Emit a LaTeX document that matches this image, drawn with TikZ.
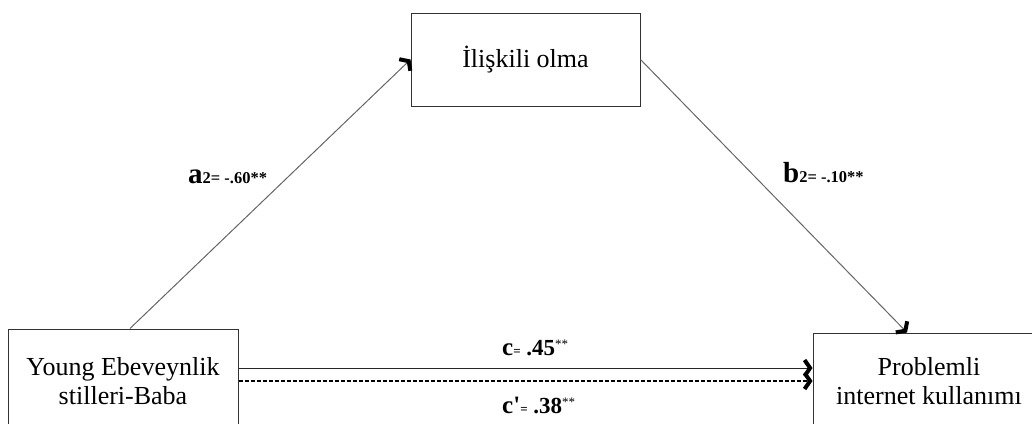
\documentclass[tikz,border=0pt]{standalone}
\usepackage{fontspec}
\setmainfont{Liberation Serif}
\usetikzlibrary{arrows.meta}
\begin{document}
\begin{tikzpicture}[x=1pt,y=-1pt,
  box/.style={draw=black!80, line width=1pt, align=center, inner sep=0pt,
    font=\fontsize{26}{29}\selectfont},
  arr/.style={-{Straight Barb[length=5.5pt,width=16pt,line width=4pt,color=black]}},
  diag/.style={draw=black!60, line width=1pt, arr},
  lab/.style={inner sep=0pt, font=\bfseries}
]
\clip (0,0) rectangle (1032,423);
\fill[white] (0,0) rectangle (1032,423);
\node[box, minimum width=230pt, minimum height=104pt] (L) at (123,381) {Young Ebeveynlik\\stilleri-Baba};
\node[box, minimum width=232pt, minimum height=96pt] (R) at (929,381) {Problemli\\internet kullanımı};
\node[box, minimum width=229pt, minimum height=93pt] (M) at (525.5,59.5) {İlişkili olma};

\draw[diag] ([xshift=7pt]L.north) -- (M.west);
\draw[diag] (M.east) -- ([xshift=-22pt]R.north);
\draw[line width=1pt, draw=black!85, arr] ([yshift=13pt]L.east) -- ([yshift=13pt]R.west);
\draw[line width=1.8pt, dash pattern=on 4pt off 2pt, arr] (L.east) -- (R.west);

\node[lab, anchor=base west] (la) at (188,183) {{\fontsize{29}{29}\selectfont a}{\fontsize{16.5}{16.5}\selectfont 2= -.60**}};
\node[lab, anchor=base west] (lb) at (783,182) {{\fontsize{29}{29}\selectfont b}{\fontsize{16.5}{16.5}\selectfont 2= -.10**}};
\node[lab, anchor=base west] (lc) at (502,355) {{\fontsize{25}{25}\selectfont c}{\fontsize{13}{13}\selectfont =}{\fontsize{23}{23}\selectfont\ .45}\raisebox{7pt}{\fontsize{13}{13}\mdseries\selectfont **}};
\node[lab, anchor=base west] (lc2) at (502,413) {{\fontsize{25}{25}\selectfont c\textquotesingle}{\fontsize{13}{13}\selectfont =}{\fontsize{23}{23}\selectfont\ .38}\raisebox{7pt}{\fontsize{13}{13}\mdseries\selectfont **}};
\end{tikzpicture}
\end{document}
